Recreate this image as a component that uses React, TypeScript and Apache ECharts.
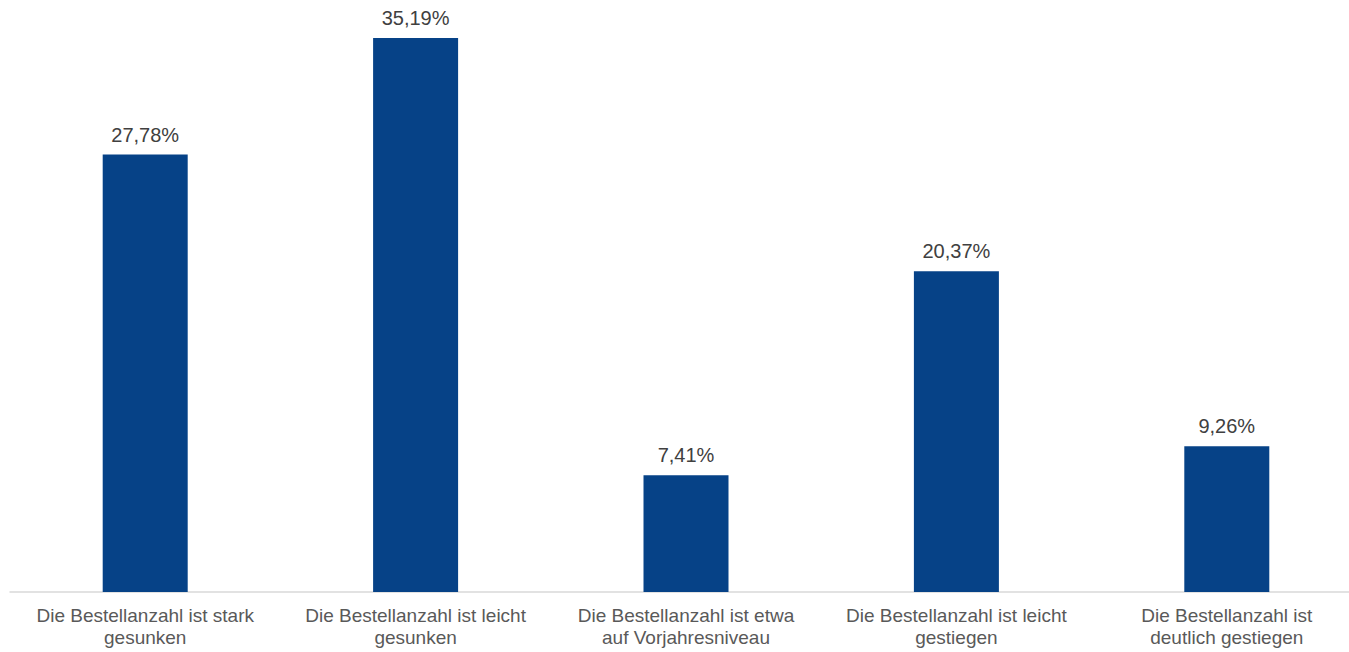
import React, { useEffect, useRef } from "react";
import * as echarts from "echarts";

const categories: string[] = [
  "Die Bestellanzahl ist stark\ngesunken",
  "Die Bestellanzahl ist leicht\ngesunken",
  "Die Bestellanzahl ist etwa\nauf Vorjahresniveau",
  "Die Bestellanzahl ist leicht\ngestiegen",
  "Die Bestellanzahl ist\ndeutlich gestiegen",
];
const values: number[] = [27.78, 35.19, 7.41, 20.37, 9.26];

export default function App() {
  const ref = useRef<HTMLDivElement>(null);
  useEffect(() => {
    if (!ref.current) return;
    const chart = echarts.init(ref.current, null, { renderer: "svg" });
    chart.setOption({
      animation: false,
      grid: { left: 10, top: 0, width: 1352, bottom: 60, containLabel: false },
      xAxis: {
        type: "category",
        data: categories,
        axisLine: { show: true, lineStyle: { color: "#d9d9d9", width: 1.5 } },
        axisTick: { show: false },
        axisLabel: {
          interval: 0,
          color: "#595959",
          fontFamily: "Liberation Sans, Arial, sans-serif",
          fontSize: 19,
          lineHeight: 22,
          margin: 12,
        },
      },
      yAxis: {
        type: "value",
        min: 0,
        max: 37.6,
        show: false,
        splitLine: { show: false },
      },
      series: [
        {
          type: "bar",
          data: values,
          barWidth: 85,
          itemStyle: { color: "#064287" },
          label: {
            show: true,
            position: "top",
            distance: 10,
            color: "#404040",
            fontFamily: "Liberation Sans, Arial, sans-serif",
            fontSize: 20,
            formatter: (p: any) => p.value.toFixed(2).replace(".", ",") + "%",
          },
        },
      ],
    });
    return () => chart.dispose();
  }, []);
  return (
    <div style={{ position: "absolute", left: 0, top: 0, width: 1349, height: 652, overflow: "hidden" }}>
      <div ref={ref} style={{ width: 1372, height: 652 }} />
    </div>
  );
}
